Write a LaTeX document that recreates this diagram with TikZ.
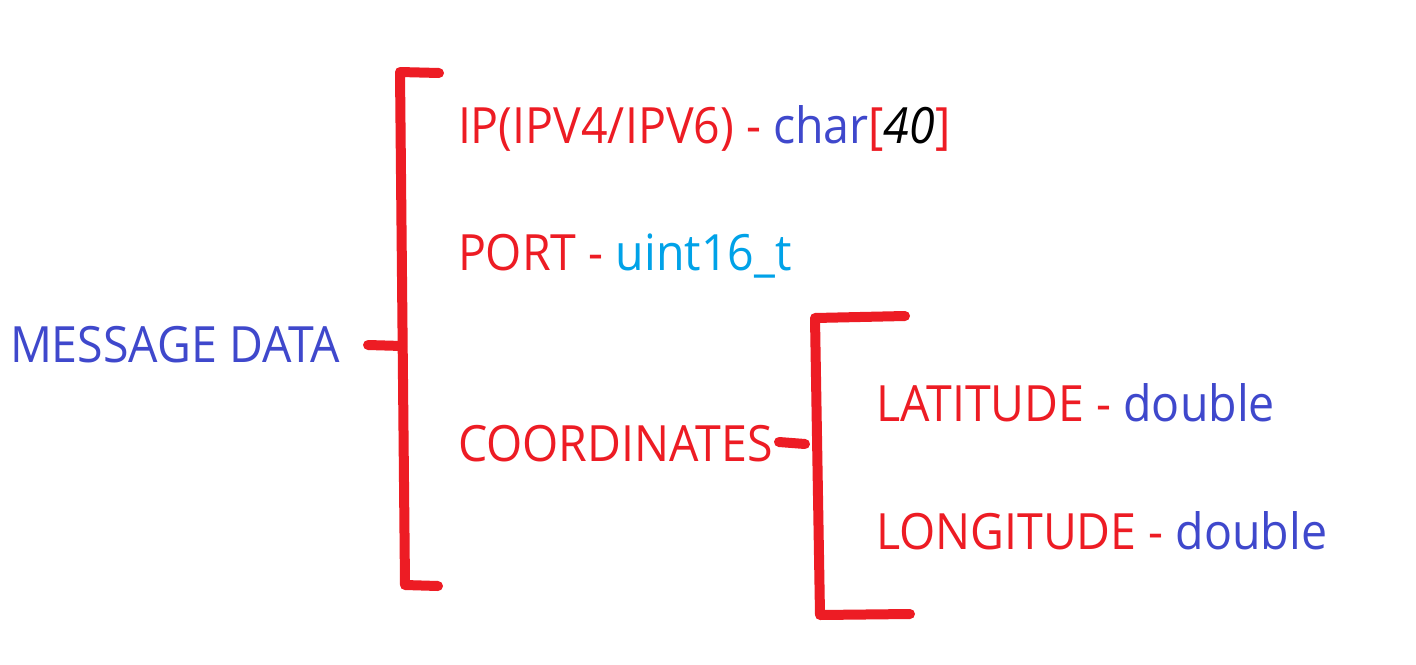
\documentclass[tikz,border=0pt]{standalone}
\usepackage{graphicx}
\usepackage{fontspec}
\setmainfont{Open Sans}
\definecolor{pred}{HTML}{ED1C24}
\definecolor{pblue}{HTML}{3F48CC}
\definecolor{pcyan}{HTML}{00A2E8}
\newcommand\narrowtxt[1]{\scalebox{0.93}[1]{#1}}
\begin{document}
\begin{tikzpicture}[x=1pt,y=-1pt,
  lbl/.style={anchor=base west,inner sep=0pt,outer sep=0pt,font=\fontsize{50}{60}\selectfont},
  brk/.style={draw=pred,line width=10pt,line cap=round,line join=round}]
\useasboundingbox[fill=white] (0,0) rectangle (1416,664);
% texts
\node[lbl,text=pblue] (msg) at (10,362) {\narrowtxt{MESSAGE DATA}};
\node[lbl,text=pred] (ip) at (458,143) {\narrowtxt{IP(IPV4/IPV6) - \textcolor{pblue}{char}[\textcolor{black}{\itshape 40}]}};
\node[lbl,text=pred] (port) at (458,270) {\narrowtxt{PORT - \textcolor{pcyan}{uint16\_t}}};
\node[lbl,text=pred] (coord) at (458,461) {\narrowtxt{COORDINATES}};
\node[lbl,text=pred] (lat) at (876,421) {\narrowtxt{LATITUDE - \textcolor{pblue}{double}}};
\node[lbl,text=pred] (lon) at (876,549) {\narrowtxt{LONGITUDE - \textcolor{pblue}{double}}};
% big bracket
\coordinate (b1) at (439,73);
\coordinate (b2) at (400,72);
\coordinate (b3) at (405,585);
\coordinate (b4) at (438,586);
\coordinate (bs1) at (368,345);
\coordinate (bs2) at (402,346);
\draw[brk] (b1) -- (b2) -- (b3) -- (b4);
\draw[brk] (bs1) -- (bs2);
% small bracket
\coordinate (c1) at (905,316);
\coordinate (c2) at (815,318);
\coordinate (c3) at (820,615);
\coordinate (c4) at (910,614);
\coordinate (cs1) at (779,442);
\coordinate (cs2) at (805,444);
\draw[brk] (c1) -- (c2) -- (c3) -- (c4);
\draw[brk] (cs1) -- (cs2);
\end{tikzpicture}
\end{document}
